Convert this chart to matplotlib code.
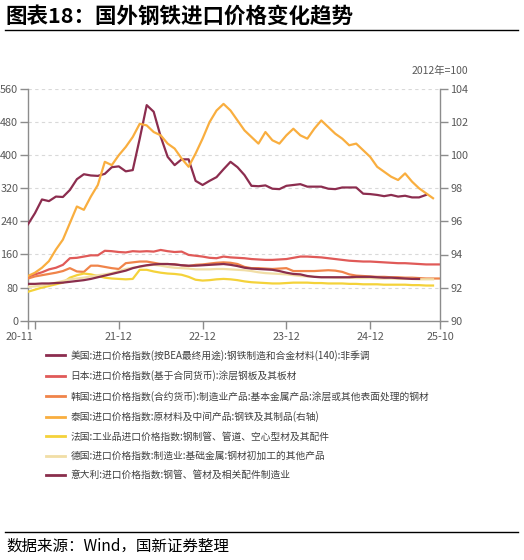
import matplotlib
matplotlib.use("Agg")
import matplotlib.pyplot as plt
from matplotlib.lines import Line2D
import matplotlib.transforms as mtransforms

plt.rcParams['font.family'] = ['Noto Sans CJK SC', 'DejaVu Sans']

# ---- data (monthly, 2020-11 .. 2025-10) ----
months = ['20-11', '21-12', '22-12', '23-12', '24-12', '25-10']
tick_idx = [0, 13, 25, 37, 49, 59]

us = [233, 260, 293, 289, 300, 299, 316, 342, 354, 351, 350, 355, 371, 373, 361, 364,
      440, 521, 505, 445, 396, 376, 390, 390, 338, 328, 338, 347, 366, 384, 371, 352,
      326, 325, 327, 319, 318, 326, 328, 330, 324, 324, 324, 319, 318, 322, 322, 322,
      307, 306, 304, 301, 304, 300, 302, 298, 298, 304]
japan = [106, 112, 117, 124, 128, 135, 151, 152, 155, 158, 158, 169, 168, 166, 165, 168,
         167, 168, 167, 171, 168, 166, 167, 159, 157, 155, 152, 151, 155, 153, 152, 151,
         149, 148, 147, 147, 148, 149, 152, 155, 155, 154, 153, 151, 149, 147, 145, 144,
         143, 143, 142, 141, 140, 139, 139, 138, 137, 136, 136, 136]
korea = [102, 107, 110, 113, 116, 120, 127, 119, 118, 133, 133, 130, 127, 125, 139, 141,
         143, 143, 140, 137, 137, 136, 134, 132, 135, 136, 138, 140, 141, 140, 137, 130,
         127, 127, 126, 125, 126, 127, 120, 120, 120, 120, 121, 122, 121, 118, 112, 109,
         108, 107, 106, 106, 105, 105, 104, 104, 103, 102, 102, 102]
thailand = [92.7, 92.9, 93.2, 93.6, 94.3, 94.9, 95.9, 96.9, 96.7, 97.5, 98.2, 99.6, 99.4,
            100.0, 100.5, 101.1, 101.9, 101.8, 101.4, 101.2, 100.7, 100.4, 99.8, 99.3,
            100.1, 101.0, 102.0, 102.7, 103.1, 102.7, 102.1, 101.5, 101.1, 100.7, 101.4,
            100.9, 100.7, 101.2, 101.6, 101.2, 101.0, 101.6, 102.1, 101.7, 101.3, 101.0,
            100.6, 100.7, 100.3, 99.9, 99.3, 99.0, 98.7, 98.5, 98.9, 98.4, 98.0, 97.7, 97.4]
france = [70, 75, 80, 84, 88, 92, 104, 110, 114, 112, 108, 104, 102, 101, 100, 101,
          123, 123, 119, 116, 114, 113, 111, 106, 99, 97, 98, 100, 101, 100, 98, 95,
          93, 92, 91, 90, 90, 91, 92, 92, 92, 91, 91, 90, 90, 90, 89, 89,
          88, 88, 88, 87, 87, 87, 87, 86, 86, 85, 85]
germany = [82, 83, 85, 88, 92, 96, 100, 102, 104, 107, 110, 112, 115, 120, 125, 128,
           130, 133, 135, 133, 130, 128, 127, 126, 124, 124, 124, 125, 125, 124, 123, 122,
           120, 117, 115, 114, 113, 112, 110, 108, 107, 106, 105, 105, 104, 104, 104, 103,
           103, 103, 102, 102, 102, 101, 101, 101, 100, 100, 100]
italy = [89, 89, 90, 90, 91, 92, 94, 96, 98, 101, 105, 109, 113, 117, 121, 127,
         131, 134, 136, 137, 137, 136, 134, 133, 133, 134, 135, 136, 137, 135, 132, 128,
         126, 125, 124, 123, 120, 116, 113, 112, 108, 106, 105, 105, 105, 105, 105, 106,
         106, 106, 105, 104, 104, 103, 102, 101, 101]

labels = [
    '美国:进口价格指数(按BEA最终用途):钢铁制造和合金材料(140):非季调',
    '日本:进口价格指数(基于合同货币):涂层钢板及其板材',
    '韩国:进口价格指数(合约货币):制造业产品:基本金属产品:涂层或其他表面处理的钢材',
    '泰国:进口价格指数:原材料及中间产品:钢铁及其制品(右轴)',
    '法国:工业品进口价格指数:钢制管、管道、空心型材及其配件',
    '德国:进口价格指数:制造业:基础金属:钢材初加工的其他产品',
    '意大利:进口价格指数:钢管、管材及相关配件制造业',
]
colors = ['#8C2D4F', '#E05A58', '#F0844A', '#F9AE3F', '#F4D23A', '#F1DEA6', '#8A2E4C']

W, H = 524, 560
fig = plt.figure(figsize=(W / 100, H / 100), dpi=100)
ax = fig.add_axes([28 / W, 1 - 320.7 / H, (440 - 28) / W, (320.7 - 89) / H])
ax2 = ax.twinx()

lw = 1.6
left_series = [(us, 0), (japan, 1), (korea, 2), (france, 4), (germany, 5), (italy, 6)]
handles = [None] * 7
for data, k in left_series:
    (ln,) = ax.plot(range(len(data)), data, color=colors[k], lw=lw, zorder=3 + k)
    handles[k] = ln
(ln,) = ax2.plot(range(len(thailand)), thailand, color=colors[3], lw=lw, zorder=3)
handles[3] = ln

ax.set_xlim(0, 59)
ax.set_ylim(0, 560)
ax2.set_ylim(90, 104)
ax.set_yticks(range(0, 561, 80))
ax2.set_yticks(range(90, 105, 2))
ax.set_xticks(tick_idx)
ax.set_xticklabels(months)
ax.set_xticks([1], minor=True)

grid_c = '#D9D9D9'
for v in range(80, 561, 80):
    ax.axhline(v, color=grid_c, lw=0.8, ls=(0, (3, 3)), zorder=1)

spine_c = '#8C8C8C'
txt_c = '#595959'
for a in (ax, ax2):
    a.spines['top'].set_visible(False)
    for s in ('left', 'right', 'bottom'):
        a.spines[s].set_color(spine_c)
        a.spines[s].set_linewidth(1.0)
ax.spines['right'].set_visible(False)
ax2.spines['left'].set_visible(False)
ax2.spines['bottom'].set_visible(False)

ax.tick_params(axis='y', which='both', direction='out', length=6, width=1, color=spine_c,
               labelcolor=txt_c, labelsize=7.8, pad=1.0)
ax2.tick_params(axis='y', direction='out', length=6, width=1, color=spine_c,
                labelcolor=txt_c, labelsize=7.8, pad=1.5)
ax.tick_params(axis='x', which='both', direction='out', length=6, width=1, color=spine_c,
               labelcolor=txt_c, labelsize=7.8, pad=2)

# shift first x label left, as in the source
lbl0 = ax.xaxis.get_major_ticks()[0].label1
lbl0.set_transform(lbl0.get_transform() +
                   mtransforms.ScaledTranslation(-9 / 100, 0, fig.dpi_scale_trans))

fig.text(468 / W, 1 - 71 / H, '2012年=100', ha='right', va='center', fontsize=7.5, color=txt_c)

# legend
leg = fig.legend(handles, labels, loc='upper left', bbox_to_anchor=(46 / W, 1 - 350 / H),
                 frameon=False, fontsize=7, handlelength=2.0, handletextpad=0.5,
                 labelspacing=0.97, borderpad=0, borderaxespad=0, labelcolor='#404040')
for h in leg.legend_handles:
    h.set_linewidth(2.0)

# title and rules
fig.text(5 / W, 1 - 16 / H, '图表18：国外钢铁进口价格变化趋势', ha='left', va='center',
         fontsize=15.5, fontweight='bold', style='italic', color='black')
fig.add_artist(Line2D([5 / W, 518 / W], [1 - 29.5 / H] * 2, color='black', lw=1.0))
fig.add_artist(Line2D([5 / W, 518 / W], [1 - 532 / H] * 2, color='black', lw=1.0))
fig.text(6 / W, 1 - 546 / H, '数据来源：Wind，国新证券整理', ha='left', va='center',
         fontsize=11.2, color='black')

fig.savefig('out.png', dpi=100)
